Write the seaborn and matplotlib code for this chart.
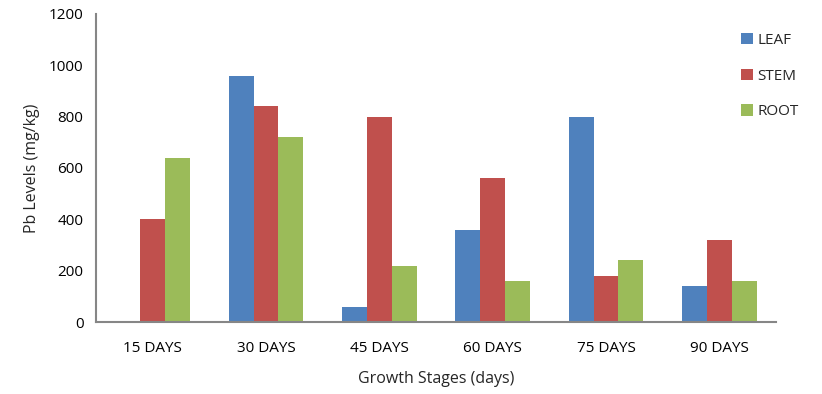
import matplotlib
matplotlib.use("Agg")
import matplotlib.pyplot as plt
import seaborn as sns
import pandas as pd
import numpy as np

categories = ["15 DAYS", "30 DAYS", "45 DAYS", "60 DAYS", "75 DAYS", "90 DAYS"]
leaf = [0, 960, 60, 360, 800, 140]
stem = [400, 840, 800, 560, 180, 320]
root = [640, 720, 220, 160, 240, 160]
series = ["LEAF", "STEM", "ROOT"]
colors = ["#4F81BD", "#C0504D", "#9BBB59"]

rows = []
for name, vals in zip(series, [leaf, stem, root]):
    for c, v in zip(categories, vals):
        rows.append({"stage": c, "series": name, "value": v})
df = pd.DataFrame(rows)

sns.set_theme(style="white")
plt.rcParams['font.family'] = ['Open Sans', 'DejaVu Sans']

fig = plt.figure(figsize=(8.22, 3.94), dpi=100)
ax = fig.add_axes([96/822, 1-322/394, (776-96)/822, (322-14)/394])

sns.barplot(data=df, x="stage", y="value", hue="series", order=categories,
            hue_order=series, palette=colors, width=0.66, gap=0,
            saturation=1, ax=ax, linewidth=0, edgecolor="none")

gray = "#868686"
ax.set_ylim(0, 1200)
ax.set_xlim(-0.5, len(categories) - 0.5)
ax.set_yticks(np.arange(0, 1201, 200))
ax.set_xticks(np.arange(-0.5, len(categories)), minor=True)
ax.tick_params(axis="x", which="major", length=0, labelsize=11, colors="black", pad=13.5)
ax.tick_params(axis="x", which="minor", length=5, width=1.5, color=gray, direction="out")
ax.tick_params(axis="y", which="major", length=5, width=1.5, color=gray, direction="out",
               labelsize=11, labelcolor="black", pad=4)
for s in ["top", "right"]:
    ax.spines[s].set_visible(False)
for s in ["left", "bottom"]:
    ax.spines[s].set_color(gray)
    ax.spines[s].set_linewidth(1.5)

ax.set_xlabel("Growth Stages (days)", fontsize=11.5, labelpad=11)
ax.set_ylabel("Pb Levels (mg/kg)", fontsize=11.5, labelpad=6)

leg = ax.legend(loc="upper left", bbox_to_anchor=(735/822, 1-27/394), bbox_transform=fig.transFigure,
                frameon=False, fontsize=11, labelspacing=1.35, handlelength=0.75,
                handleheight=0.75, handletextpad=0.3, borderaxespad=0)
fig.savefig("out.png", dpi=100)
